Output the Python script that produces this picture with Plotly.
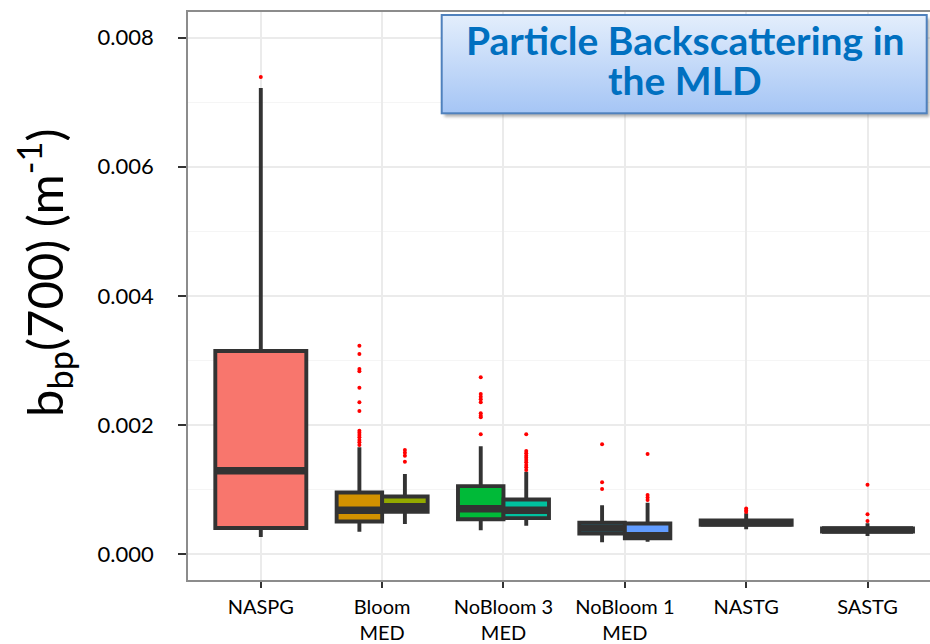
import base64
import plotly.graph_objects as go

# Regions along the x axis
categories = ["NASPG", "Bloom<br>MED", "NoBloom 3<br>MED", "NoBloom 1<br>MED", "NASTG", "SASTG"]

# One entry per box: category index, dodge slot (-1 left, 0 full, +1 right) and fill colour
box_category = [0, 1, 1, 2, 2, 3, 3, 4, 5]
box_slot = [0, -1, 1, -1, 1, -1, 1, 0, 0]
box_fill = ["#F8766D", "#D39200", "#93AA00", "#00BA38", "#00C19F",
            "#00B9E3", "#619CFF", "#DB72FB", "#FF61C3"]

# Box statistics of bbp(700) in m^-1
q1 = [0.000403, 0.000504, 0.000654, 0.000539, 0.000555, 0.000318, 0.000245, 0.000451, 0.000349]
median = [0.001289, 0.000677, 0.000731, 0.000702, 0.000679, 0.000403, 0.000282, 0.000485, 0.000372]
q3 = [0.003146, 0.000953, 0.000891, 0.001051, 0.000844, 0.000486, 0.000473, 0.000519, 0.000395]
lower_fence = [0.000263, 0.000346, 0.000465, 0.000367, 0.000439, 0.000181, 0.000191, 0.000383, 0.000279]
upper_fence = [0.007221, 0.001653, 0.001240, 0.001669, 0.001275, 0.000755, 0.000795, 0.000631, 0.000476]

# Outlying observations per box
outliers = [
    [0.007391],
    [0.003228, 0.003099, 0.002867, 0.002831, 0.002577, 0.002351, 0.002216,
     0.001911, 0.001880, 0.001844, 0.001808, 0.001766, 0.001731, 0.001689],
    [0.001611, 0.001570, 0.001523, 0.001430],
    [0.002738, 0.002479, 0.002437, 0.002397, 0.002351, 0.002180, 0.002143, 0.002118, 0.001855],
    [0.001855, 0.001596, 0.001560, 0.001523, 0.001492, 0.001457, 0.001421, 0.001379, 0.001343, 0.001302],
    [0.001700, 0.001111, 0.001007],
    [0.001550, 0.000914, 0.000875, 0.000837],
    [0.000705, 0.000674, 0.000651],
    [0.001074, 0.000615, 0.000511],
]

y_ticks = [0.000, 0.002, 0.004, 0.006, 0.008]

FULL_W = 0.75
OUTLINE = "#333333"

fig = go.Figure()

for i in range(len(q1)):
    w = FULL_W if box_slot[i] == 0 else FULL_W / 2
    xc = box_category[i] + box_slot[i] * FULL_W / 4
    fig.add_trace(go.Box(
        x=[xc], q1=[q1[i]], median=[median[i]], q3=[q3[i]],
        lowerfence=[lower_fence[i]], upperfence=[upper_fence[i]],
        orientation="v", width=w, whiskerwidth=0,
        fillcolor=box_fill[i], line=dict(color=OUTLINE, width=3.9),
        boxpoints=False, hoverinfo="skip", showlegend=False,
    ))
    # thicker median bar
    fig.add_trace(go.Scatter(
        x=[xc - w / 2, xc + w / 2], y=[median[i], median[i]],
        mode="lines", line=dict(color=OUTLINE, width=7.5),
        hoverinfo="skip", showlegend=False,
    ))
    fig.add_trace(go.Scatter(
        x=[xc] * len(outliers[i]), y=outliers[i], mode="markers",
        marker=dict(color="#FF0000", size=4, line=dict(width=0)),
        hoverinfo="skip", showlegend=False,
    ))

# Gradient title panel with a soft shadow
svg = (
    "<svg xmlns='http://www.w3.org/2000/svg' width='494' height='112' viewBox='0 0 494 112'>"
    "<defs><linearGradient id='g' x1='0' y1='0' x2='0' y2='1'>"
    "<stop offset='0' stop-color='#E3EEFC'/><stop offset='1' stop-color='#A5C5F5'/>"
    "</linearGradient>"
    "<filter id='s' x='-5%' y='-10%' width='115%' height='140%'><feGaussianBlur stdDeviation='1.8'/></filter>"
    "</defs>"
    "<rect x='8.5' y='8.5' width='485' height='98.3' fill='#707070' opacity='0.55' filter='url(#s)'/>"
    "<rect x='5.7' y='5' width='485' height='98.3' fill='url(#g)' stroke='#4F81BD' stroke-width='2'/>"
    "</svg>"
)
svg_uri = "data:image/svg+xml;base64," + base64.b64encode(svg.encode()).decode()

PLOT_L, PLOT_R, PLOT_T, PLOT_B = 188, 930, 12, 580
pw, ph = PLOT_R - PLOT_L, PLOT_B - PLOT_T


def px_x(px):
    return (px - PLOT_L) / pw


def px_y(py):
    return (PLOT_B - py) / ph


fig.add_layout_image(
    source=svg_uri, xref="paper", yref="paper",
    x=px_x(436), y=px_y(10), sizex=494 / pw, sizey=112 / ph,
    xanchor="left", yanchor="top", sizing="stretch", layer="above",
)

title_lines = ["Particle Backscattering in", "the MLD"]
title_line_y = [40, 80]
for line, yc in zip(title_lines, title_line_y):
    fig.add_annotation(
        text=f"<b>{line}</b>",
        xref="paper", yref="paper", x=px_x(685), y=px_y(yc),
        xanchor="center", yanchor="middle", showarrow=False,
        font=dict(family="Lato", size=39, color="#0070C0"),
    )

fig.add_annotation(
    text="b<sub>bp</sub>(700) (m<sup>-1</sup>)",
    xref="paper", yref="paper", x=px_x(44), y=px_y(273),
    xanchor="center", yanchor="middle", textangle=-90, showarrow=False,
    font=dict(family="Lato", size=49, color="#000000"),
)

fig.update_layout(
    width=930, height=644,
    margin=dict(l=PLOT_L, r=930 - PLOT_R, t=PLOT_T, b=644 - PLOT_B),
    paper_bgcolor="white", plot_bgcolor="white",
    font=dict(family="Lato", color="#000000"),
)

fig.update_xaxes(
    range=[-0.6, 5.515], tickmode="array",
    tickvals=list(range(len(categories))), ticktext=categories,
    showgrid=True, gridcolor="#EBEBEB", gridwidth=1.5,
    showline=True, linecolor="#8C8C8C", linewidth=1.5, mirror=True,
    ticks="outside", ticklen=6, tickwidth=1.5, tickcolor=OUTLINE,
    ticklabelstandoff=2, automargin=False,
    tickfont=dict(family="Lato", size=20, color="#000000"),
    zeroline=False,
)

fig.update_yaxes(
    range=[-0.000403, 0.008398], tickmode="array",
    tickvals=y_ticks, ticktext=[f"{v:.3f}" for v in y_ticks],
    showgrid=True, gridcolor="#EBEBEB", gridwidth=1.5,
    minor=dict(dtick=0.001, showgrid=True, gridcolor="#F5F5F5", gridwidth=1.2, ticks=""),
    showline=True, linecolor="#8C8C8C", linewidth=1.5, mirror=False,
    ticks="outside", ticklen=8, tickwidth=1.5, tickcolor=OUTLINE,
    ticklabelstandoff=20, automargin=False,
    tickfont=dict(family="Lato", size=22, color="#000000"),
    zeroline=False,
)

fig.write_html("out.html")
